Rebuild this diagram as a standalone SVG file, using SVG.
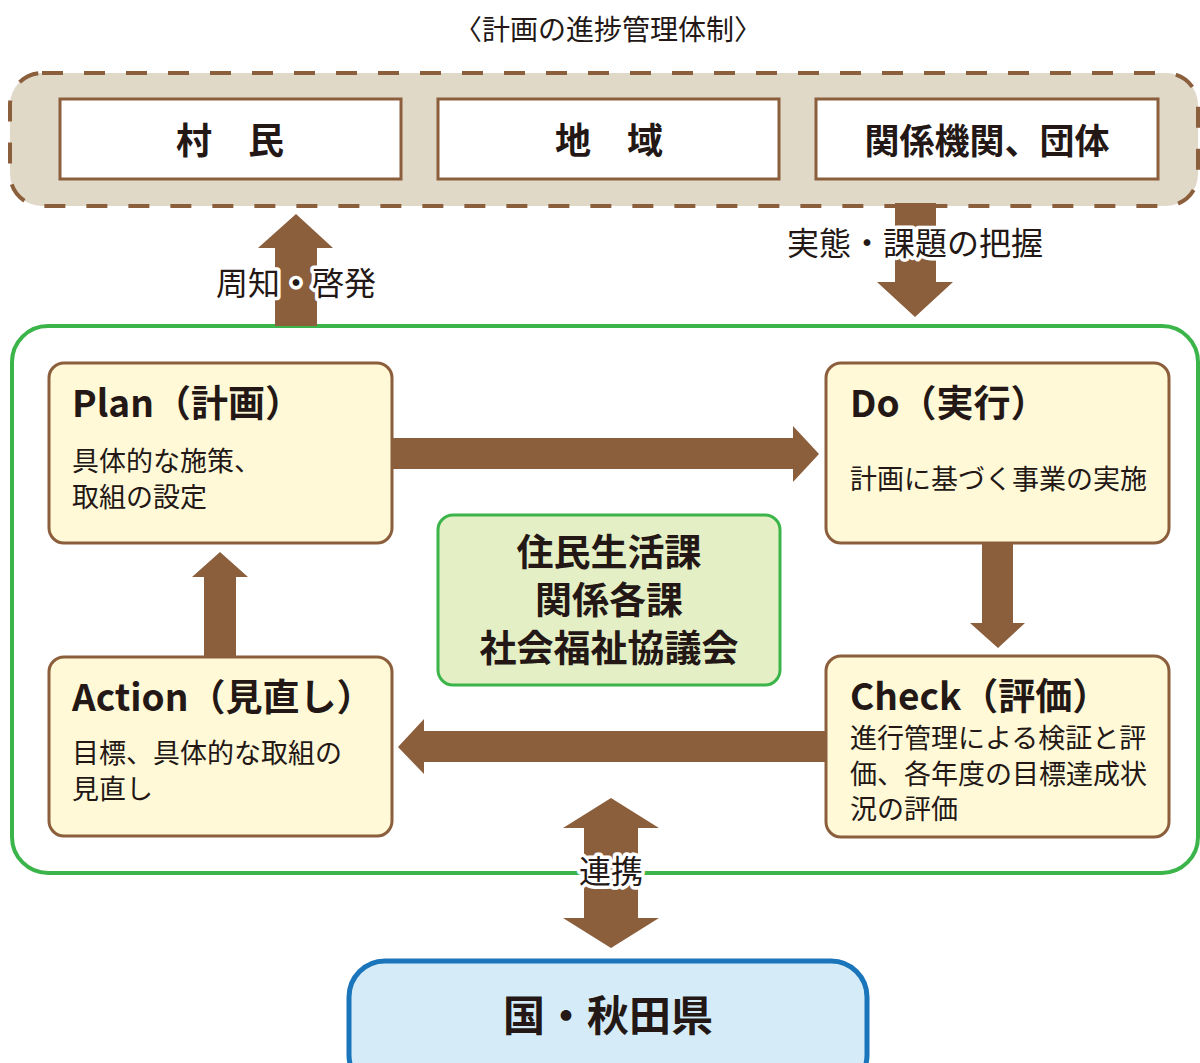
<svg xmlns="http://www.w3.org/2000/svg" width="1200" height="1063" viewBox="0 0 1200 1063">
<style>
text{font-family:"Noto Sans CJK JP","Noto Sans",sans-serif;fill:#231815}
.b{font-weight:700}
.lbl{font-size:32px;paint-order:stroke;stroke:#fff;stroke-width:7px;stroke-linejoin:round}
.pd{fill:#fff9d8;stroke:#8b5e3c;stroke-width:3}
.org{fill:#fff;stroke:#8b5e3c;stroke-width:3}
.arr{fill:#8b5e3c}
.t1{font-size:37px;font-weight:700}
.t2{font-size:27px}
</style>
<text x="608" y="40" text-anchor="middle" font-size="28">〈計画の進捗管理体制〉</text>
<g id="stakeholders">
<rect x="10" y="73" width="1188" height="133" rx="32" fill="#e0d9c8" stroke="#8b5e3c" stroke-width="4" stroke-dasharray="21,21"/>
</g>
<g id="villagers"><rect class="org" x="60" y="99" width="341" height="80"/><text class="b" x="230" y="154" text-anchor="middle" font-size="36">村　民</text></g>
<g id="region"><rect class="org" x="438" y="99" width="341" height="80"/><text class="b" x="609" y="154" text-anchor="middle" font-size="36">地　域</text></g>
<g id="orgs"><rect class="org" x="816" y="99" width="342" height="80"/><text class="b" x="987" y="154" text-anchor="middle" font-size="35">関係機関、団体</text></g>
<g id="frame"><rect x="12" y="326" width="1186" height="547" rx="36" fill="none" stroke="#3bb54a" stroke-width="4"/></g>
<g id="connectors">
<polygon class="arr" points="275,326 275,248 258,248 296,214 333,248 317,248 317,326"/>
<polygon class="arr" points="895,203 936,203 936,282 953,282 915,317 877,282 895,282"/>
<polygon class="arr" points="392,438 793,438 793,426 819,454 793,482 793,469 392,469"/>
<polygon class="arr" points="982,543 1013,543 1013,623 1025,623 998,648 970,623 982,623"/>
<polygon class="arr" points="826,731 424,731 424,719 398,747 424,774 424,762 826,762"/>
<polygon class="arr" points="204,657 204,577 192,577 220,552 248,577 236,577 236,657"/>
<polygon class="arr" points="611,798 659,828 638,828 638,918 659,918 611,948 563,918 584,918 584,828 563,828"/>
</g>
<text class="lbl" x="296" y="295" text-anchor="middle">周知・啓発</text>
<text class="lbl" x="915" y="255" text-anchor="middle">実態・課題の把握</text>
<text class="lbl" x="611" y="883" text-anchor="middle" font-size="31">連携</text>
<g id="plan"><rect class="pd" x="49" y="363" width="343" height="180" rx="15"/>
<text class="t1" x="72" y="417">Plan（計画）</text>
<text class="t2" x="72" y="471">具体的な施策、</text><text class="t2" x="72" y="507">取組の設定</text></g>
<g id="do"><rect class="pd" x="826" y="363" width="343" height="180" rx="15"/>
<text class="t1" x="850" y="417">Do（実行）</text>
<text class="t2" x="850" y="489">計画に基づく事業の実施</text></g>
<g id="check"><rect class="pd" x="826" y="656" width="343" height="181" rx="15"/>
<text class="t1" x="850" y="710">Check（評価）</text>
<text class="t2" x="850" y="748">進行管理による検証と評</text>
<text class="t2" x="850" y="784">価、各年度の目標達成状</text>
<text class="t2" x="850" y="819">況の評価</text></g>
<g id="action"><rect class="pd" x="49" y="657" width="343" height="179" rx="15"/>
<text class="t1" x="72" y="711">Action（見直し）</text>
<text class="t2" x="72" y="763">目標、具体的な取組の</text>
<text class="t2" x="72" y="799">見直し</text></g>
<g id="center"><rect x="438" y="515" width="342" height="170" rx="15" fill="#e5efc5" stroke="#3bb54a" stroke-width="3"/>
<text class="b" x="609" y="566" text-anchor="middle" font-size="37">住民生活課</text>
<text class="b" x="609" y="614" text-anchor="middle" font-size="37">関係各課</text>
<text class="b" x="609" y="662" text-anchor="middle" font-size="37">社会福祉協議会</text></g>
<g id="nation"><rect x="349" y="961" width="518" height="130" rx="36" fill="#d5ecf8" stroke="#1a75bb" stroke-width="5"/>
<text class="b" x="608" y="1031" text-anchor="middle" font-size="42">国・秋田県</text></g>
</svg>
